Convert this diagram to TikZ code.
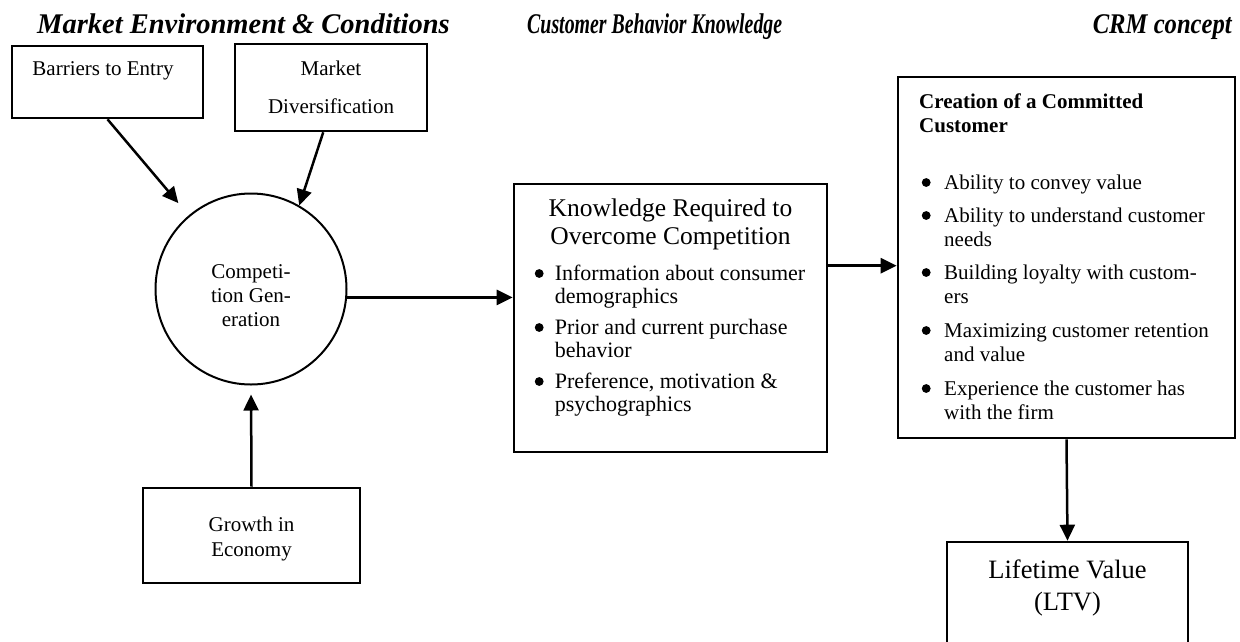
\documentclass[tikz,border=0pt]{standalone}
\usepackage{fontspec}
\setmainfont{Liberation Serif}
\usetikzlibrary{arrows.meta,calc}
\newcommand{\bdot}{\tikz[baseline=0pt]\fill (0pt,6.5pt) circle[radius=4.4pt];}
\begin{document}
\begin{tikzpicture}[x=1pt,y=-1pt,
  box/.style={draw,line width=2.6pt,rectangle,inner sep=0pt},
  circ/.style={draw,line width=2pt,circle,inner sep=0pt,minimum size=191pt},
  arr/.style={line width=2.5pt,-{Triangle[length=16pt,width=15pt]}},
  ttl/.style={inner sep=0pt,font=\fontsize{28.5}{34}\selectfont\bfseries\itshape},
  lbl/.style={inner sep=0pt,anchor=base,font=\fontsize{21}{24}\selectfont},
  klbl/.style={inner sep=0pt,anchor=base,font=\fontsize{22}{23}\selectfont},
  big/.style={inner sep=0pt,anchor=base,font=\fontsize{25.5}{28}\selectfont},
  ltvl/.style={inner sep=0pt,anchor=base,font=\fontsize{26.5}{32}\selectfont}]
\useasboundingbox (0,0) rectangle (1240,641);
\clip (0,0) rectangle (1240,641);
\fill[white] (0,0) rectangle (1240,641);

% titles
\node[ttl,anchor=base west] (t1) at (37,33) {Market Environment \& Conditions};
\node[ttl,anchor=base west] (t2) at (527,33) {\resizebox{255pt}{\height}{Customer Behavior Knowledge}};
\node[ttl,anchor=base east] (t3) at (1232,33) {\resizebox{139pt}{\height}{CRM concept}};

% boxes
\node[box,minimum width=191pt,minimum height=72pt] (barr) at (107.5,82) {};
\node[box,minimum width=192pt,minimum height=87pt] (mdiv) at (331,87.5) {};
\node[circ] (circ) at (251,289) {};
\node[box,minimum width=217pt,minimum height=95pt] (grow) at (251.5,535.5) {};
\node[box,minimum width=313pt,minimum height=268pt] (know) at (670.5,318) {};
\node[box,minimum width=337pt,minimum height=361pt] (crm) at (1066.5,257.5) {};
\node[box,minimum width=241pt,minimum height=140pt] (ltv) at (1067.5,612) {};

% texts
\node[lbl] (tbarr) at (103,75) {Barriers to Entry};
\node[lbl] (tmdiv) at (331,75) {\begin{tabular}[t]{@{}c@{}}Market\\[14pt]Diversification\end{tabular}};
\node[lbl] (tcirc) at (251,278) {\begin{tabular}[t]{@{}c@{}}Competi-\\tion Gen-\\eration\end{tabular}};
\node[lbl] (tgrow) at (251.5,531) {\begin{tabular}[t]{@{}c@{}}Growth in\\[1pt]Economy\end{tabular}};
\node[big] (tknow) at (670.5,216) {\begin{tabular}[t]{@{}c@{}}Knowledge Required to\\Overcome Competition\end{tabular}};
\node[klbl,anchor=base west] (tknowb) at (534.6,280) {\begin{tabular}[t]{@{}p{20pt}@{}l@{}}
\bdot & Information about consumer\\
 & demographics\\[8pt]
\bdot & Prior and current purchase\\
 & behavior\\[8pt]
\bdot & Preference, motivation \&\\
 & psychographics
\end{tabular}};
\node[lbl,anchor=base west] (tcrm) at (919,108) {\begin{tabular}[t]{@{}p{25pt}@{}l@{}}
\multicolumn{2}{@{}l@{}}{\bfseries Creation of a Committed}\\
\multicolumn{2}{@{}l@{}}{\bfseries Customer}\\[33pt]
\hspace{2.6pt}\bdot & Ability to convey value\\[9pt]
\hspace{2.6pt}\bdot & Ability to understand customer\\
 & needs\\[9pt]
\hspace{2.6pt}\bdot & Building loyalty with custom-\\
 & ers\\[10pt]
\hspace{2.6pt}\bdot & Maximizing customer retention\\
 & and value\\[10pt]
\hspace{2.6pt}\bdot & Experience the customer has\\
 & with the firm
\end{tabular}};
\node[ltvl] (tltv) at (1067.5,578) {\begin{tabular}[t]{@{}c@{}}Lifetime Value\\(LTV)\end{tabular}};

% connectors
\coordinate (m1) at ($(mdiv.south west)!0.46!(mdiv.south east)$);
\coordinate (c1) at (circ.-5.4);
\coordinate (k1) at ($(know.north east)+(0,83)$);
\draw[arr,shorten >=16pt] (barr.south) -- (circ);
\draw[arr] (m1) -- (circ.60);
\draw[arr,shorten >=9pt] (grow.north) -- (circ.south);
\draw[arr] (c1) -- (c1 -| know.west);
\draw[arr] (k1) -- (k1 -| crm.west);
\draw[arr] (crm.south) -- (ltv.north);
\end{tikzpicture}
\end{document}
